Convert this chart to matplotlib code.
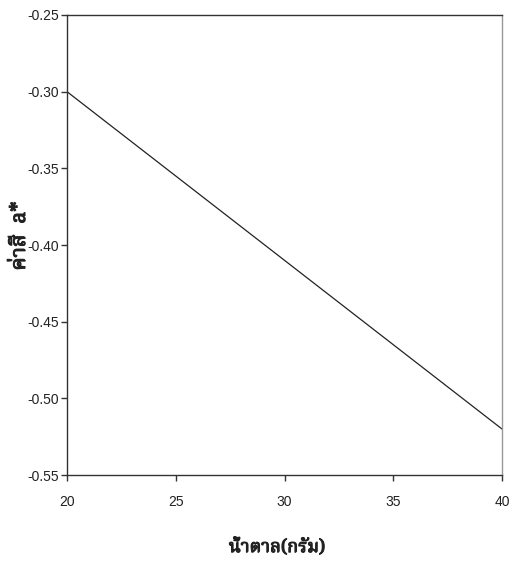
import matplotlib
matplotlib.use("Agg")
import matplotlib.pyplot as plt
import matplotlib.patheffects as pe
from matplotlib import font_manager

# Sugar amount (g) vs colour value a*
sugar_g = [20, 40]
a_star = [-0.30, -0.52]

x_ticks = [20, 25, 30, 35, 40]
y_ticks = [-0.55, -0.50, -0.45, -0.40, -0.35, -0.30, -0.25]

x_label = "น้ำตาล(กรัม)"
y_label = "ค่าสี  a*"

available = {f.name for f in font_manager.fontManager.ttflist}
thai_fonts = [f for f in ["Noto Serif Thai", "Loma", "Noto Sans Thai"] if f in available]
label_family = thai_fonts[:1] + ["DejaVu Serif"]
tick_font = "Liberation Sans"

W, H = 518, 562
fig = plt.figure(figsize=(W / 100, H / 100), dpi=100)
ax = fig.add_axes([67 / W, 1 - 475 / H, (502 - 67) / W, (475 - 15) / H])

ax.plot(sugar_g, a_star, color="#222222", linewidth=0.9)

ax.set_xlim(20, 40)
ax.set_ylim(-0.55, -0.25)
ax.set_xticks(x_ticks)
ax.set_yticks(y_ticks)
ax.set_xticklabels([str(t) for t in x_ticks], fontfamily=tick_font, fontsize=10,
                   color="#222222")
ax.set_yticklabels([f"{t:.2f}" for t in y_ticks], fontfamily=tick_font, fontsize=10,
                   color="#222222")

for side in ("left", "top", "bottom"):
    ax.spines[side].set_color("#333333")
    ax.spines[side].set_linewidth(1.0)
ax.spines["right"].set_color("#999999")
ax.spines["right"].set_linewidth(1.0)
ax.tick_params(direction="out", length=4.5, width=1.0, color="#333333")
ax.tick_params(axis="y", pad=1.5)
ax.tick_params(axis="x", pad=10)

# heavy strokes to give the Thai labels a bold look
bold = [pe.withStroke(linewidth=0.8, foreground="#222222")]
fig.text(277 / W, 1 - 547 / H, x_label, family=label_family, fontsize=13,
         ha="center", va="center", color="#222222", path_effects=bold)
fig.text(19 / W, 1 - 236 / H, y_label, family=label_family, fontsize=15,
         ha="center", va="center", rotation=90, color="#222222", path_effects=bold)

fig.savefig("out.png", dpi=100)
